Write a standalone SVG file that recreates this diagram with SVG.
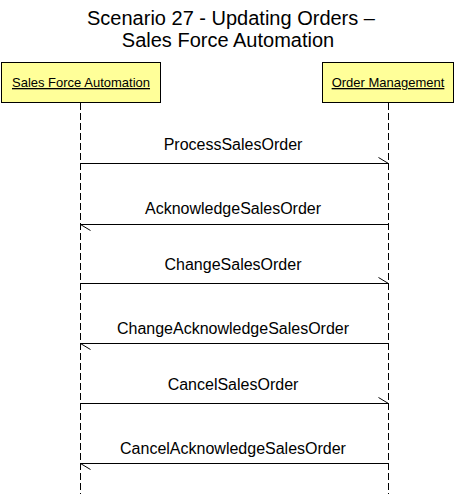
<svg xmlns="http://www.w3.org/2000/svg" width="455" height="494" viewBox="0 0 455 494">
<style>
text{font-family:"Liberation Sans",Arial,sans-serif;fill:#000}
.title{font-size:20px;text-anchor:middle}
.box{fill:#FFFF99;stroke:#000;stroke-width:1}
.bt{font-size:13px;text-anchor:middle;text-decoration:underline}
.life{stroke:#000;stroke-width:1;stroke-dasharray:7,3;fill:none}
.msg{stroke:#000;stroke-width:1;fill:none}
.lbl{font-size:16px;text-anchor:middle}
</style>
<rect width="455" height="494" fill="#fff"/>
<g id="title">
<text class="title" x="231" y="25">Scenario 27 - Updating Orders –</text>
<text class="title" x="228" y="47">Sales Force Automation</text>
</g>
<g id="node-sfa">
<rect class="box" x="1.5" y="62.5" width="159" height="40"/>
<text class="bt" x="81" y="87">Sales Force Automation</text>
<line class="life" x1="80.5" y1="103" x2="80.5" y2="494"/>
</g>
<g id="node-om">
<rect class="box" x="322.5" y="62.5" width="131" height="40"/>
<text class="bt" x="388" y="87">Order Management</text>
<line class="life" x1="388.5" y1="103" x2="388.5" y2="494"/>
</g>
<g id="connectors">
<path class="msg" d="M80.5 163.5H388.5M388.5 163.5L378.5 157.5"/>
<path class="msg" d="M388.5 224.5H80.5M80.5 224.5L90.5 230.5"/>
<path class="msg" d="M80.5 283.5H388.5M388.5 283.5L378.5 277.5"/>
<path class="msg" d="M388.5 343.5H80.5M80.5 343.5L90.5 349.5"/>
<path class="msg" d="M80.5 403.5H388.5M388.5 403.5L378.5 397.5"/>
<path class="msg" d="M388.5 463.5H80.5M80.5 463.5L90.5 469.5"/>
<text class="lbl" x="233" y="150">ProcessSalesOrder</text>
<text class="lbl" x="233" y="214">AcknowledgeSalesOrder</text>
<text class="lbl" x="233" y="270">ChangeSalesOrder</text>
<text class="lbl" x="233" y="334">ChangeAcknowledgeSalesOrder</text>
<text class="lbl" x="233" y="390">CancelSalesOrder</text>
<text class="lbl" x="233" y="454">CancelAcknowledgeSalesOrder</text>
</g>
</svg>
